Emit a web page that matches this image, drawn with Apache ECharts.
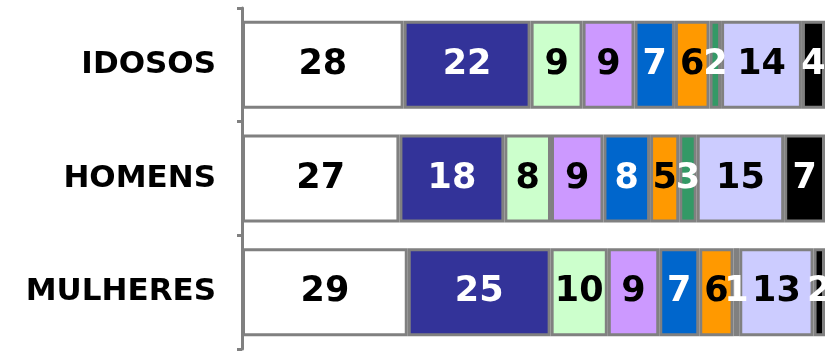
<!DOCTYPE html>
<html>
<head>
<meta charset="utf-8">
<script src="https://cdn.jsdelivr.net/npm/echarts@6/dist/echarts.min.js"></script>
<style>html,body{margin:0;padding:0;background:#fff}#c{width:837px;height:354px}</style>
</head>
<body>
<div id="c"></div>
<script>
// categories (top to bottom)
const categories = ['IDOSOS', 'HOMENS', 'MULHERES'];
// segment values (percent labels as printed), per category in the order above
const seg1 = [28, 27, 29];
const seg2 = [22, 18, 25];
const seg3 = [9, 8, 10];
const seg4 = [9, 9, 9];
const seg5 = [7, 8, 7];
const seg6 = [6, 5, 6];
const seg7 = [2, 3, 1];
const seg8 = [14, 15, 13];
const seg9 = [4, 7, 2];

const segments = [seg1, seg2, seg3, seg4, seg5, seg6, seg7, seg8, seg9];
const colors = ['#FFFFFF', '#333399', '#CCFFCC', '#CC99FF', '#0066CC', '#FF9900', '#339966', '#CCCCFF', '#000000'];
const labelColors = ['#000', '#fff', '#000', '#000', '#fff', '#000', '#fff', '#000', '#fff'];

const totals = categories.map((_, i) => segments.reduce((s, a) => s + a[i], 0));

const series = segments.map((arr, k) => ({
  type: 'bar',
  stack: 'total',
  barWidth: 88,
  data: arr.map((v, i) => ({ value: v / totals[i] * 100, raw: v })),
  itemStyle: { color: colors[k], borderColor: '#808080', borderWidth: 3 },
  label: {
    show: true,
    position: 'inside',
    formatter: p => String(p.data.raw),
    color: labelColors[k],
    fontFamily: 'DejaVu Sans',
    fontWeight: 'bold',
    fontSize: 35
  },
  emphasis: { disabled: true },
  animation: false
}));

const chart = echarts.init(document.getElementById('c'), null, { renderer: 'canvas' });
chart.setOption({
  animation: false,
  grid: { left: 242, right: 12, top: 8, bottom: 5, containLabel: false },
  xAxis: { type: 'value', min: 0, max: 100, show: false },
  yAxis: {
    type: 'category',
    data: categories,
    inverse: true,
    axisLine: { lineStyle: { color: '#808080', width: 3 } },
    axisTick: { show: true, length: 5, lineStyle: { color: '#808080', width: 3 } },
    axisLabel: {
      margin: 26,
      color: '#000',
      fontFamily: 'DejaVu Sans',
      fontWeight: 'bold',
      fontSize: 31
    },
    splitLine: { show: false }
  },
  series: series
});
</script>
</body>
</html>
